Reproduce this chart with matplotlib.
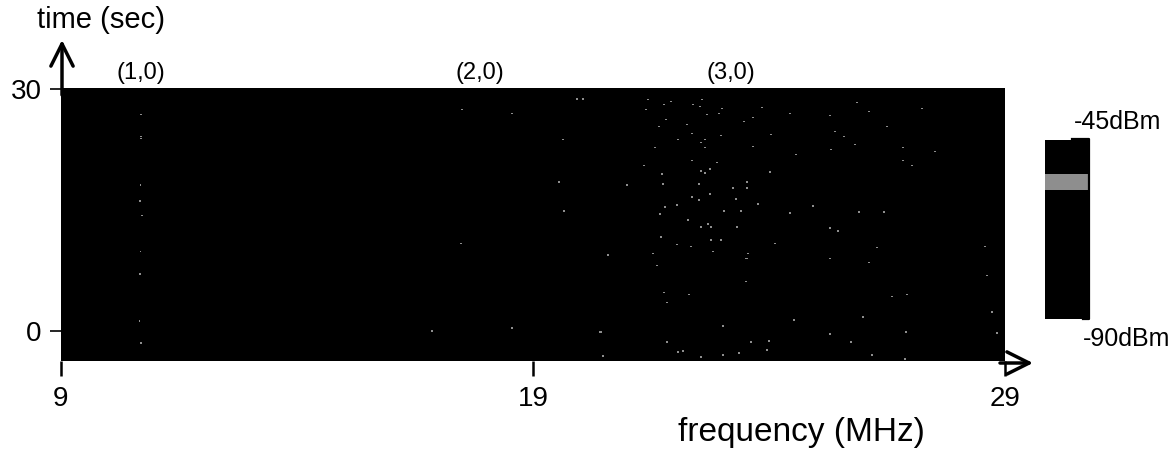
import numpy as np
import matplotlib
matplotlib.use("Agg")
import matplotlib.pyplot as plt
from matplotlib.colors import ListedColormap, BoundaryNorm

plt.rcParams['font.family'] = ['Liberation Sans', 'DejaVu Sans']

# --- data ---
freq_range = [9, 29]          # MHz
time_range = [-3.7, 30.1]     # sec (image runs a bit below 0)
x_ticks = [9, 19, 29]
y_ticks = [0, 30]

# coarse background power (dBm), rows = time bottom->top, cols = frequency
background_dbm = [
    [-86, -85, -86, -84, -83, -82, -80, -81, -83, -85],
    [-87, -85, -85, -83, -82, -80, -78, -79, -82, -84],
    [-86, -84, -84, -82, -81, -78, -76, -78, -81, -84],
    [-85, -84, -83, -82, -80, -77, -74, -77, -80, -83],
]

# bright speckles (freq MHz, time sec)
speckle_freq = [
    21.44, 21.78, 21.92, 21.39, 22.39, 22.54, 22.58, 23.00, 22.69, 22.94, 23.85, 24.44,
    25.29, 25.86, 26.12, 27.24, 21.82, 23.47, 23.66, 21.67, 22.26, 22.37, 22.98, 24.04,
    25.40, 25.59, 26.50, 22.07, 22.56, 22.64, 22.64, 21.58, 23.66, 25.31, 25.82, 26.84,
    27.52, 24.57, 22.37, 22.90, 21.35, 26.84, 27.03, 22.56, 22.75, 22.64, 24.02, 21.73,
    21.75, 20.99, 23.24, 23.53, 23.53, 22.52, 22.37, 22.52, 22.75, 23.30, 23.77, 24.93,
    21.80, 22.05, 23.05, 23.41, 24.44, 25.91, 26.44, 21.69, 22.28, 22.56, 22.71, 22.77,
    23.32, 25.29, 25.46, 21.71, 22.05, 22.35, 22.77, 22.98, 24.13, 26.29, 28.58, 20.59,
    21.54, 22.81, 23.51, 23.53, 23.56, 25.29, 26.12, 21.63, 23.51, 28.62, 21.78, 22.31,
    21.84, 26.61, 26.92, 28.72, 24.53, 25.99, 23.03, 20.42, 25.29, 26.90, 28.83, 25.74,
    21.84, 23.62, 24.00, 22.18, 22.07, 23.96, 23.03, 23.36, 26.18, 26.88, 22.56, 20.48,
    # (2,0) region
    17.50, 18.56, 19.64, 19.55, 19.66, 17.47, 20.59, 16.86, 18.56, 20.44, 19.93, 20.06,
    # (1,0) line
    10.69, 10.69, 10.70, 10.68, 10.67, 10.72, 10.68, 10.67, 10.66, 10.69,
]
speckle_time = [
    28.65, 28.03, 28.40, 27.42, 28.03, 27.79, 28.65, 27.54, 26.80, 26.93, 27.67, 26.93,
    26.68, 28.28, 27.17, 27.54, 26.19, 25.94, 26.43, 25.33, 25.57, 24.47, 24.22, 24.35,
    24.71, 24.10, 25.33, 23.73, 23.36, 23.73, 22.75, 22.75, 22.87, 22.50, 23.12, 22.75,
    22.25, 21.89, 21.15, 20.90, 20.53, 21.15, 20.53, 19.80, 20.04, 19.55, 19.67, 19.43,
    18.20, 18.07, 17.71, 17.71, 18.44, 18.20, 16.60, 16.23, 16.97, 16.35, 15.74, 15.49,
    15.37, 15.62, 14.88, 14.88, 14.63, 14.75, 14.75, 14.51, 13.77, 12.91, 13.28, 12.91,
    12.91, 12.79, 12.42, 11.68, 10.70, 10.45, 11.31, 11.31, 10.82, 10.33, 10.45, 9.47,
    9.59, 9.84, 8.98, 8.98, 9.59, 8.98, 8.48, 8.12, 6.15, 6.89, 4.80, 4.55,
    3.57, 4.30, 4.55, 2.34, 1.35, 1.72, 0.61, -0.12, -0.37, -0.12, -0.25, -1.35,
    -1.35, -1.35, -1.23, -2.46, -2.58, -2.34, -2.95, -2.71, -2.95, -3.44, -3.20, -3.07,
    27.42, 26.93, 23.73, 18.44, 14.88, 10.82, 9.34, 0.00, 0.37, -0.12, 28.77, 28.77,
    26.80, 24.10, 23.85, 18.07, 16.10, 14.30, 9.84, 7.10, 1.23, -1.48,
]
speckle_dbm = -55

mode_labels = ['(1,0)', '(2,0)', '(3,0)']
mode_freq = [10.69, 17.88, 23.2]

cbar_min, cbar_max = -90, -45

# colour map: black except a grey band around -57..-53 dBm
levels = np.arange(cbar_min, cbar_max + 1, 1)
cols = ['#000000'] * (len(levels) - 1)
for i, lv in enumerate(levels[:-1]):
    if -57 <= lv < -53:
        cols[i] = '#8e8e8e'
cmap = ListedColormap(cols)
norm = BoundaryNorm(levels, cmap.N)

W, H = 1176, 450


def fx(x):
    return x / W


def fy(y):
    return 1 - y / H


fig = plt.figure(figsize=(W / 100, H / 100), dpi=100)
ax = fig.add_axes([fx(61), fy(361), (1005 - 61) / W, (361 - 88) / H])

im = ax.imshow(background_dbm, cmap=cmap, norm=norm, origin='lower', aspect='auto',
               interpolation='nearest',
               extent=[freq_range[0], freq_range[1], time_range[0], time_range[1]])
ax.scatter(speckle_freq, speckle_time, c=[speckle_dbm] * len(speckle_freq), cmap=cmap,
           norm=norm, s=1.2, marker='s', linewidths=0)
ax.set_xlim(freq_range)
ax.set_ylim(time_range)
for sp in ax.spines.values():
    sp.set_visible(False)

ax.set_xticks(x_ticks)
ax.set_xticklabels([str(v) for v in x_ticks], fontsize=20)
ax.set_yticks(y_ticks)
ax.set_yticklabels([str(v) for v in y_ticks], fontsize=20)
ax.tick_params(axis='x', length=11, width=1.8, pad=7)
ax.tick_params(axis='y', length=8, width=1.2, pad=6)

# axis arrows
arrow = dict(arrowstyle='->', lw=2.5, mutation_scale=40, shrinkA=0, shrinkB=0, color='black')
ax.annotate('', xy=(62, H - 40), xycoords='figure pixels',
            xytext=(62, H - 95), textcoords='figure pixels', arrowprops=arrow)
ax.annotate('', xy=(1033, H - 363), xycoords='figure pixels',
            xytext=(1000, H - 363), textcoords='figure pixels', arrowprops=arrow)

fig.text(fx(101), fy(20), 'time (sec)', fontsize=21, ha='center', va='center')
fig.text(fx(801), fy(433), 'frequency (MHz)', fontsize=24, ha='center', va='center')

for lab, f in zip(mode_labels, mode_freq):
    ax.text(f, 1.015, lab, transform=ax.get_xaxis_transform(), fontsize=17,
            ha='center', va='bottom')

# colour bar
cax = fig.add_axes([fx(1045), fy(319), 44 / W, (319 - 140) / H])
cb = fig.colorbar(im, cax=cax)
cb.outline.set_visible(False)
cb.solids.set_edgecolor('face')
cb.set_ticks([])
cax.tick_params(which='both', length=0, labelright=False)
fig.add_artist(plt.Line2D([fx(1072), fx(1089), fx(1089), fx(1083)],
                          [fy(139), fy(139), fy(319), fy(319)], color='black', lw=1.6))
fig.text(fx(1118), fy(122), '-45dBm', fontsize=18, ha='center', va='center')
fig.text(fx(1127), fy(339), '-90dBm', fontsize=18, ha='center', va='center')

fig.savefig('out.png', dpi=100)
